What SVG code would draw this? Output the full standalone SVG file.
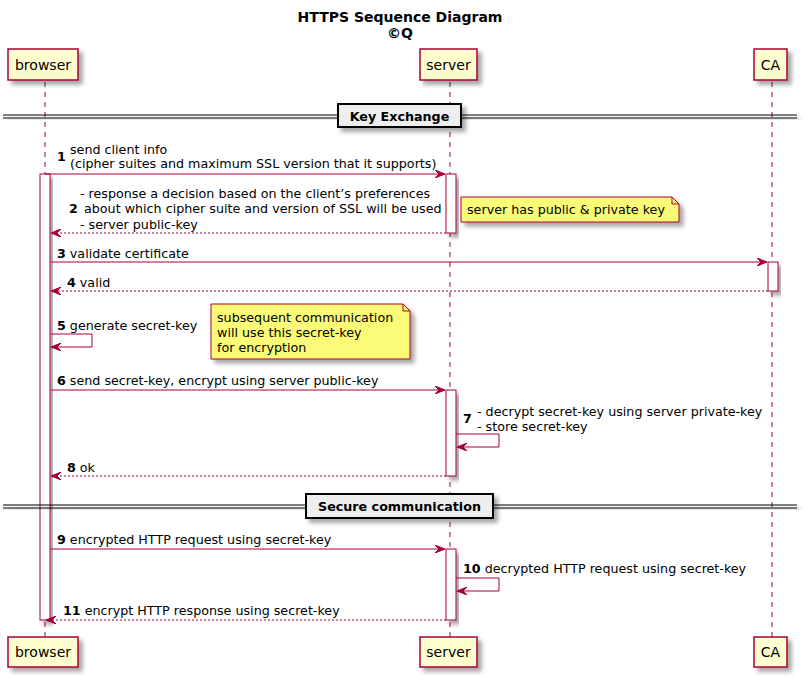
<svg xmlns="http://www.w3.org/2000/svg" width="807" height="677" viewBox="0 0 807 677">
<defs>
<filter id="sh" x="-20%" y="-20%" width="150%" height="160%">
<feDropShadow dx="4" dy="4" stdDeviation="2" flood-color="#000" flood-opacity="0.35"/>
</filter>
<marker id="ah" viewBox="0 0 10 8" refX="10" refY="4" markerWidth="10" markerHeight="8" markerUnits="userSpaceOnUse" orient="auto">
<polygon points="0,0 10,4 0,8 4,4" fill="#A80036" stroke="#A80036" stroke-width="1"/>
</marker>
</defs>
<style>
text{font-family:"DejaVu Sans",sans-serif;fill:#000}
.t{font-size:12.7px}
.b{font-weight:bold}
.p{font-size:14px}
.part{fill:#FEFECE;stroke:#A80036;stroke-width:1.5}
.life{stroke:#A80036;stroke-width:1;stroke-dasharray:5,5;fill:none}
.act{fill:#FFFFFF;stroke:#A80036;stroke-width:1}
.msg{stroke:#A80036;stroke-width:1;fill:none;marker-end:url(#ah)}
.ret{stroke:#A80036;stroke-width:1;fill:none;stroke-dasharray:2,2;marker-end:url(#ah)}
.note{fill:#FBFB77;stroke:#A80036;stroke-width:1}
.div{stroke:#000;stroke-width:1;fill:none}
.dbox{fill:#EEEEEE;stroke:#000;stroke-width:2}
</style>
<rect width="807" height="677" fill="#FFFFFF"/>
<text x="400" y="22" text-anchor="middle" class="b" font-size="14">HTTPS Sequence Diagram</text>
<text x="400" y="38" text-anchor="middle" class="b" font-size="14">©Q</text>

<g id="lifelines">
<line class="life" x1="45" y1="82" x2="45" y2="637"/>
<line class="life" x1="450" y1="82" x2="450" y2="637"/>
<line class="life" x1="772" y1="82" x2="772" y2="637"/>
</g>

<g id="browser-top"><rect class="part" x="8" y="49" width="70" height="31" filter="url(#sh)"/><text class="p" x="43" y="70" text-anchor="middle">browser</text></g>
<g id="server-top"><rect class="part" x="420" y="49" width="57" height="31" filter="url(#sh)"/><text class="p" x="448.5" y="70" text-anchor="middle">server</text></g>
<g id="ca-top"><rect class="part" x="754" y="49" width="33" height="31" filter="url(#sh)"/><text class="p" x="770.5" y="70" text-anchor="middle">CA</text></g>
<g id="browser-bottom"><rect class="part" x="8" y="637" width="70" height="30" filter="url(#sh)"/><text class="p" x="43" y="657" text-anchor="middle">browser</text></g>
<g id="server-bottom"><rect class="part" x="420" y="637" width="57" height="30" filter="url(#sh)"/><text class="p" x="448.5" y="657" text-anchor="middle">server</text></g>
<g id="ca-bottom"><rect class="part" x="754" y="637" width="33" height="30" filter="url(#sh)"/><text class="p" x="770.5" y="657" text-anchor="middle">CA</text></g>

<g id="activations">
<rect class="act" x="40" y="174" width="10" height="446" filter="url(#sh)"/>
<rect class="act" x="446" y="174" width="10" height="59" filter="url(#sh)"/>
<rect class="act" x="768" y="262" width="10" height="29" filter="url(#sh)"/>
<rect class="act" x="446" y="390" width="10" height="86" filter="url(#sh)"/>
<rect class="act" x="446" y="549" width="10" height="71" filter="url(#sh)"/>
</g>

<g id="divider-key-exchange">
<g filter="url(#sh)">
<line class="div" x1="3" y1="115" x2="797" y2="115"/>
<line class="div" x1="3" y1="118" x2="797" y2="118"/>
</g>
<rect class="dbox" x="338" y="104" width="123" height="23" filter="url(#sh)"/>
<text class="t b" x="399.5" y="121" text-anchor="middle">Key Exchange</text>
</g>

<g id="divider-secure">
<g filter="url(#sh)">
<line class="div" x1="3" y1="505" x2="797" y2="505"/>
<line class="div" x1="3" y1="508" x2="797" y2="508"/>
</g>
<rect class="dbox" x="306" y="494" width="187" height="24" filter="url(#sh)"/>
<text class="t b" x="399.5" y="511" text-anchor="middle">Secure communication</text>
</g>

<g id="note-server">
<path class="note" d="M461,197 L672,197 L679,204 L679,222 L461,222 Z" filter="url(#sh)"/>
<path d="M672,197 L672,204 L679,204" fill="none" stroke="#A80036" stroke-width="1"/>
<text class="t" x="467" y="214">server has public &amp; private key</text>
</g>

<g id="note-secret">
<path class="note" d="M211,304 L403,304 L410,311 L410,359 L211,359 Z" filter="url(#sh)"/>
<path d="M403,304 L403,311 L410,311" fill="none" stroke="#A80036" stroke-width="1"/>
<text class="t" x="217" y="322">subsequent communication</text>
<text class="t" x="217" y="337">will use this secret-key</text>
<text class="t" x="217" y="352">for encryption</text>
</g>

<g id="connectors">
<line class="msg" x1="45" y1="174" x2="445" y2="174"/>
<line class="ret" x1="446" y1="233" x2="51" y2="233"/>
<line class="msg" x1="51" y1="262" x2="767" y2="262"/>
<line class="ret" x1="768" y1="291" x2="51" y2="291"/>
<polyline class="msg" points="51,334 92,334 92,347 51,347"/>
<line class="msg" x1="51" y1="390" x2="445" y2="390"/>
<polyline class="msg" points="456,434 499,434 499,447 457,447"/>
<line class="ret" x1="446" y1="476" x2="51" y2="476"/>
<line class="msg" x1="51" y1="549" x2="445" y2="549"/>
<polyline class="msg" points="456,578 499,578 499,591 457,591"/>
<line class="ret" x1="446" y1="620" x2="46" y2="620"/>
</g>

<g id="labels">
<text class="t b" x="57" y="161">1</text>
<text class="t" x="70" y="154">send client info</text>
<text class="t" x="70" y="168">(cipher suites and maximum SSL version that it supports)</text>

<text class="t b" x="69" y="213">2</text>
<text class="t" x="80" y="198">- response a decision based on the client’s preferences</text>
<text class="t" x="80" y="213" xml:space="preserve"> about which cipher suite and version of SSL will be used</text>
<text class="t" x="80" y="229">- server public-key</text>

<text class="t" x="57" y="258"><tspan class="b">3</tspan> validate certificate</text>
<text class="t" x="67" y="287"><tspan class="b">4</tspan> valid</text>
<text class="t" x="57" y="330"><tspan class="b">5</tspan> generate secret-key</text>
<text class="t" x="57" y="385"><tspan class="b">6</tspan> send secret-key, encrypt using server public-key</text>
<text class="t b" x="463" y="423">7</text>
<text class="t" x="477" y="416">- decrypt secret-key using server private-key</text>
<text class="t" x="477" y="431">- store secret-key</text>
<text class="t" x="67" y="472"><tspan class="b">8</tspan> ok</text>
<text class="t" x="57" y="544"><tspan class="b">9</tspan> encrypted HTTP request using secret-key</text>
<text class="t" x="463" y="573"><tspan class="b">10</tspan> decrypted HTTP request using secret-key</text>
<text class="t" x="63" y="615"><tspan class="b">11</tspan> encrypt HTTP response using secret-key</text>
</g>
</svg>
